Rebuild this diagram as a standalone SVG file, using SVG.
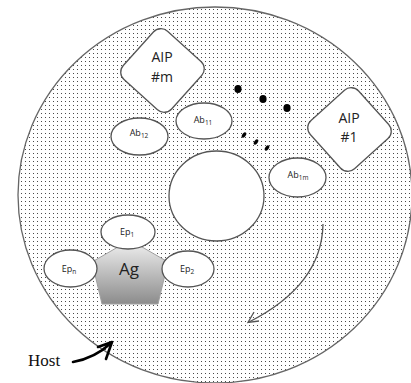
<svg xmlns="http://www.w3.org/2000/svg" width="411" height="383" viewBox="0 0 411 383">
  <defs>
    <pattern id="dots" width="4" height="4" patternUnits="userSpaceOnUse">
      <rect x="1" y="1" width="1" height="1" fill="#4a4a4a"/>
    </pattern>
    <linearGradient id="agFill" x1="0" y1="0" x2="0" y2="1">
      <stop offset="0" stop-color="#f2f2f2"/>
      <stop offset="1" stop-color="#8c8c8c"/>
    </linearGradient>
  </defs>
  <style>
    .shape { fill: #ffffff; stroke: #555555; stroke-width: 1.3; }
    .lbl { font-family: "Open Sans", "Liberation Sans", sans-serif; fill: #222222; text-anchor: middle; }
    .big { font-size: 14px; }
    .small { font-size: 9px; }
    .sub { font-size: 6.5px; }
    .dot { fill: #000000; }
  </style>

  <!-- host body -->
  <g id="host">
    <ellipse cx="215" cy="195" rx="197" ry="188" fill="url(#dots)" stroke="#666666" stroke-width="1.3"/>
  </g>

  <!-- central cell -->
  <g id="core">
    <ellipse class="shape" cx="216.5" cy="196" rx="47.5" ry="45"/>
  </g>

  <!-- antigen-presenting units -->
  <g id="aip-m">
    <rect class="shape" x="130" y="38" width="65" height="65" rx="10" transform="rotate(42 162.5 70.5)"/>
    <text class="lbl big" x="162" y="62">AIP</text>
    <text class="lbl big" x="162" y="82">#m</text>
  </g>
  <g id="aip-1">
    <rect class="shape" x="317" y="97" width="65" height="65" rx="10" transform="rotate(48 349.5 129.5)"/>
    <text class="lbl big" x="349" y="123">AIP</text>
    <text class="lbl big" x="349" y="142">#1</text>
  </g>

  <!-- antibodies -->
  <g id="ab12">
    <ellipse class="shape" cx="139.5" cy="136.5" rx="28.5" ry="18.5"/>
    <text class="lbl small" x="139" y="136">Ab<tspan class="sub" dy="1.5">12</tspan></text>
  </g>
  <g id="ab11">
    <ellipse class="shape" cx="204" cy="121" rx="28" ry="18"/>
    <text class="lbl small" x="203" y="123">Ab<tspan class="sub" dy="1.5">11</tspan></text>
  </g>
  <g id="ab1m">
    <ellipse class="shape" cx="297.5" cy="177.5" rx="28.5" ry="19.5"/>
    <text class="lbl small" x="298" y="178">Ab<tspan class="sub" dy="1.5">1m</tspan></text>
  </g>

  <!-- ellipsis dots -->
  <g id="more-aip">
    <ellipse class="dot" cx="238" cy="89" rx="3.6" ry="4"/>
    <ellipse class="dot" cx="263" cy="99" rx="3.6" ry="4"/>
    <ellipse class="dot" cx="287" cy="108" rx="3.6" ry="4"/>
  </g>
  <g id="more-ab">
    <ellipse class="dot" cx="244" cy="135" rx="1.8" ry="3" transform="rotate(35 244 135)"/>
    <ellipse class="dot" cx="256" cy="142" rx="1.8" ry="3" transform="rotate(35 256 142)"/>
    <ellipse class="dot" cx="267" cy="148" rx="1.8" ry="3" transform="rotate(35 267 148)"/>
  </g>

  <!-- antigen with epitopes -->
  <g id="ag">
    <polygon points="130,240 168,262 158,304 102,304 92,262" fill="url(#agFill)" stroke="#a0a0a0" stroke-width="1"/>
    <text class="lbl" x="129" y="275" font-size="17">Ag</text>
  </g>
  <g id="ep1">
    <ellipse class="shape" cx="128" cy="232" rx="27" ry="17"/>
    <text class="lbl small" x="127" y="235">Ep<tspan class="sub" dy="1.5">1</tspan></text>
  </g>
  <g id="epn">
    <ellipse class="shape" cx="70.5" cy="268.5" rx="26.5" ry="18.5"/>
    <text class="lbl small" x="69" y="272">Ep<tspan class="sub" dy="1.5">n</tspan></text>
  </g>
  <g id="ep2">
    <ellipse class="shape" cx="188" cy="269" rx="26" ry="18"/>
    <text class="lbl small" x="187" y="272">Ep<tspan class="sub" dy="1.5">2</tspan></text>
  </g>

  <!-- connectors -->
  <g id="connectors" fill="none">
    <path d="M323,224 Q322,285 249,322" stroke="#555555" stroke-width="1.3"/>
    <path d="M254,312 L248,322.5 L259,321" stroke="#555555" stroke-width="1.3"/>
    <path d="M73,362 Q95,358 111,343" stroke="#000000" stroke-width="2.6" stroke-linecap="round"/>
    <path d="M98,347 L112,342 L106,359" stroke="#000000" stroke-width="2.6" stroke-linecap="round" stroke-linejoin="round"/>
  </g>

  <g id="host-label">
    <text x="28" y="366" font-family="Liberation Serif, serif" font-size="17" fill="#111111">Host</text>
  </g>
</svg>
